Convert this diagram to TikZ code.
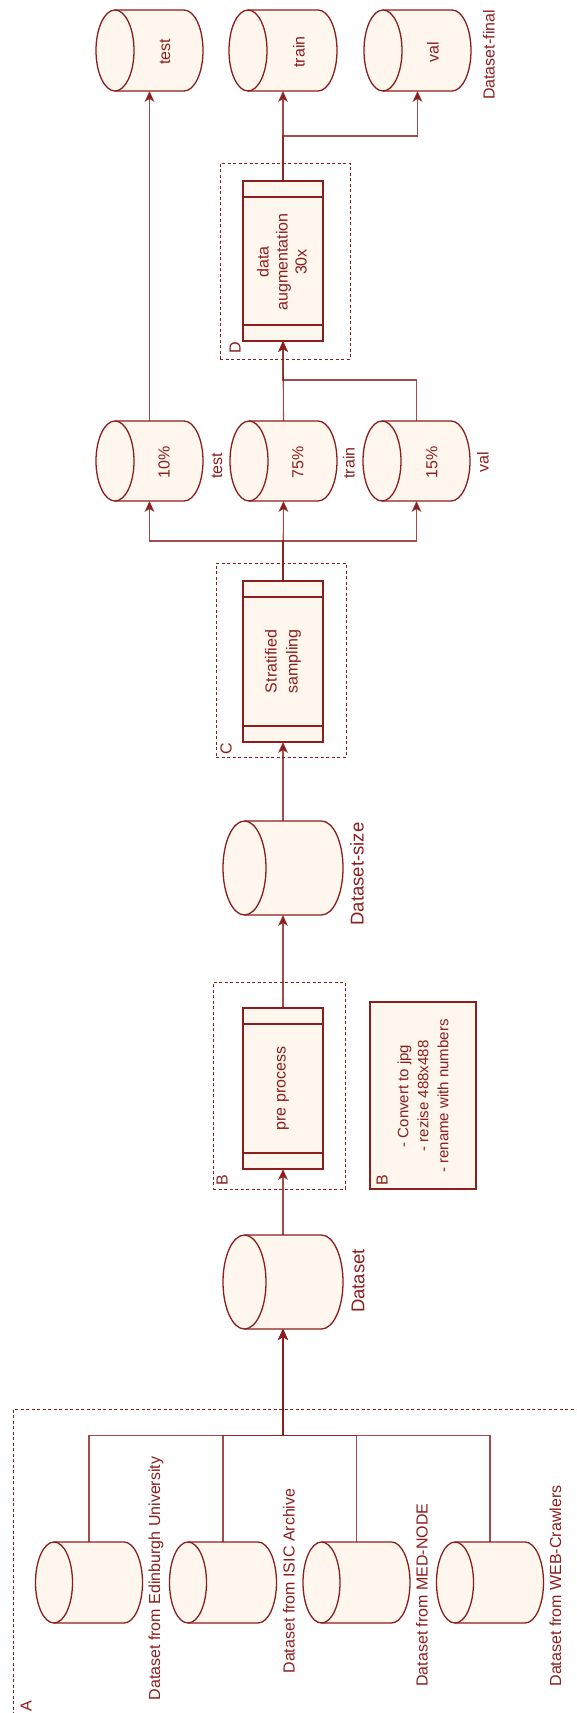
\documentclass[tikz,border=0pt]{standalone}
\usepackage{fontspec}
\setmainfont{Liberation Sans}
\usetikzlibrary{arrows.meta,calc}
\definecolor{dred}{HTML}{8C1D1D}
\definecolor{cream}{HTML}{FFF7EE}
\tikzset{
  cylline/.style={draw=dred,fill=cream,line width=1.3pt},
  cylbody/.style={inner sep=0pt,outer sep=0pt,draw=none},
  procbox/.style={draw=dred,fill=cream,line width=1.3pt,inner sep=0pt,outer sep=0pt},
  band/.style={draw=dred,line width=1.3pt},
  grp/.style={draw=dred,dash pattern=on 3pt off 2.5pt,line width=1pt,inner sep=0pt,outer sep=0pt},
  notebox/.style={draw=dred,fill=cream,line width=1.3pt,inner sep=0pt,outer sep=0pt},
  txt/.style={text=dred,rotate=90,inner sep=0pt,font=\fontsize{16}{19}\selectfont,align=center},
  bigtxt/.style={txt,font=\fontsize{18.5}{22}\selectfont},
  notetxt/.style={txt,font=\fontsize{15}{20}\selectfont},
  conn/.style={draw=dred,line width=1.1pt,draw opacity=0.8,-{Stealth[length=11pt,width=10pt,inset=3pt]}},
  plain/.style={draw=dred,line width=1.1pt,draw opacity=0.8}
}
% name, cx, cy (image coords), width, height, rx
\newcommand\dbcyl[6]{%
  \path[cylline] ({#2-#4/2+#6},{-#3+#5/2}) -- ({#2+#4/2-#6},{-#3+#5/2})
     arc[start angle=90,end angle=-90,x radius=#6pt,y radius=#5pt/2]
     -- ({#2-#4/2+#6},{-#3-#5/2})
     arc[start angle=270,end angle=90,x radius=#6pt,y radius=#5pt/2] -- cycle;
  \draw[cylline,fill=none] ({#2-#4/2+#6},{-#3+#5/2})
     arc[start angle=90,end angle=-90,x radius=#6pt,y radius=#5pt/2];
  \node[cylbody,minimum width=#4pt,minimum height=#5pt] (#1) at (#2,-#3) {};
}
\begin{document}
\begin{tikzpicture}[x=1pt,y=1pt]
\clip (0,0) rectangle (576,-1713);
\useasboundingbox (0,0) rectangle (576,-1713);

% ---------- group A ----------
\node[grp,minimum width=600pt,minimum height=400pt] (gA) at (313,-1609) {};
\node[txt] (lA) at (26,-1706) {A};

\dbcyl{s1}{89}{1582.5}{107}{81}{18.5}
\dbcyl{s2}{223}{1582.5}{107}{81}{18.5}
\dbcyl{s3}{356.5}{1582.5}{107}{81}{18.5}
\dbcyl{s4}{490}{1582.5}{107}{81}{18.5}
\node[txt] (ls1) at (156,-1578.5) {Dataset from Edinburgh University};
\node[txt] (ls2) at (289,-1581) {Dataset from ISIC Archive};
\node[txt] (ls3) at (422,-1595) {Dataset from MED-NODE};
\node[txt] (ls4) at (555.5,-1586) {Dataset from WEB-Crawlers};

% ---------- Dataset ----------
\dbcyl{ds}{283}{1282}{120}{94}{21.5}
\node[bigtxt] (lds) at (358,-1281) {Dataset};

\coordinate (jA) at (283,-1435.5);
\draw[conn] (s1.north) |- (jA) -- (ds.south);
\draw[conn] (s2.north) |- (jA) -- (ds.south);
\draw[conn] (s3.north) |- (jA) -- (ds.south);
\draw[conn] (s4.north) |- (jA) -- (ds.south);

% ---------- B : pre process ----------
\node[grp,minimum width=132pt,minimum height=207pt] (gB) at (279,-1085.5) {};
\node[txt] (lB) at (222,-1180) {B};
\node[procbox,minimum width=80pt,minimum height=161pt] (pp) at (283,-1088.5) {};
\draw[band] ([yshift=-16pt]pp.north west) -- ([yshift=-16pt]pp.north east);
\draw[band] ([yshift=16pt]pp.south west) -- ([yshift=16pt]pp.south east);
\node[txt] (tpp) at (pp.center) {pre process};

\node[notebox,minimum width=106pt,minimum height=187pt] (note) at (423,-1095.5) {};
\node[notetxt] (tnote) at (423,-1096) {- Convert to jpg\\- rezise 488x488\\- rename with numbers};
\node[txt] (lB2) at (382,-1180) {B};

\draw[conn] (ds.north) -- (pp.south);

% ---------- Dataset-size ----------
\dbcyl{dss}{283}{868}{120}{94}{21.5}
\node[bigtxt] (ldss) at (357,-874) {Dataset-size};
\draw[conn] (pp.north) -- (dss.south);

% ---------- C : stratified sampling ----------
\node[grp,minimum width=130pt,minimum height=194pt] (gC) at (281,-660) {};
\node[txt] (lC) at (226,-749) {C};
\node[procbox,minimum width=80pt,minimum height=161pt] (ss) at (283,-661.5) {};
\draw[band] ([yshift=-16pt]ss.north west) -- ([yshift=-16pt]ss.north east);
\draw[band] ([yshift=16pt]ss.south west) -- ([yshift=16pt]ss.south east);
\node[txt,font=\fontsize{16}{21}\selectfont] (tss) at (ss.center) {Stratified\\sampling};
\draw[conn] (dss.north) -- (ss.south);

% ---------- split ----------
\dbcyl{c10}{149.5}{461}{107}{80}{19}
\dbcyl{c75}{283.5}{461}{107}{80}{19}
\dbcyl{c15}{416.5}{461}{107}{80}{19}
\node[txt] (t10) at (164,-462) {10\%};
\node[txt] (t75) at (298,-462) {75\%};
\node[txt] (t15) at (432,-462) {15\%};
\node[txt] (l10) at (217,-466) {test};
\node[txt] (l75) at (349,-463) {train};
\node[txt] (l15) at (483,-462) {val};

\coordinate (jS) at (283,-541);
\draw[conn] (ss.north) -- (jS) -| (c10.south);
\draw[conn] (ss.north) -- (c75.south);
\draw[conn] (ss.north) -- (jS) -| (c15.south);

% ---------- D : data augmentation ----------
\node[grp,minimum width=130pt,minimum height=196pt] (gD) at (285,-261) {};
\node[txt] (lD) at (235,-348) {D};
\node[procbox,minimum width=80pt,minimum height=160pt] (aug) at (283,-261) {};
\draw[band] ([yshift=-16pt]aug.north west) -- ([yshift=-16pt]aug.north east);
\draw[band] ([yshift=16pt]aug.south west) -- ([yshift=16pt]aug.south east);
\node[txt] (taug) at (282,-262) {data\\augmentation\\30x};

\coordinate (jU) at (283,-380);
\draw[conn] (c75.north) -- (aug.south);
\draw[conn] (c15.north) |- (jU) -- (aug.south);

% ---------- final ----------
\dbcyl{ftest}{149.5}{50.5}{107}{81}{19}
\dbcyl{ftrain}{283}{50.5}{108}{81}{19}
\dbcyl{fval}{417.5}{50.5}{107}{81}{19}
\node[txt] (tft) at (165,-52) {test};
\node[txt] (tftr) at (299,-52) {train};
\node[txt] (tfv) at (433,-52) {val};
\node[txt] (lfin) at (489,-55) {Dataset-final};

\coordinate (jV) at (283,-136);
\draw[conn] (aug.north) -- (ftrain.south);
\draw[conn] (aug.north) -- (jV) -| (fval.south);
\draw[conn] (c10.north) -- (ftest.south);
\end{tikzpicture}
\end{document}
